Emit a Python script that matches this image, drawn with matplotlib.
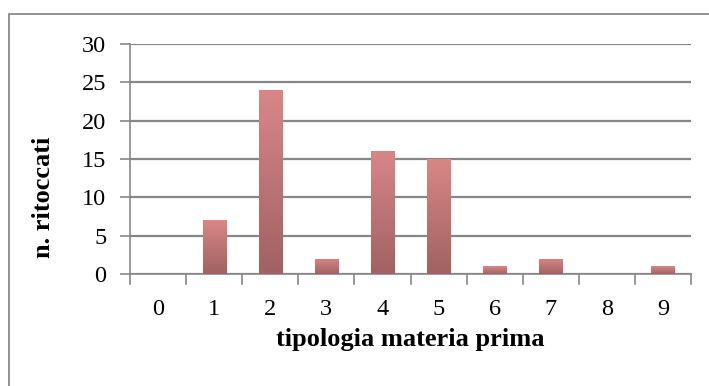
import matplotlib
matplotlib.use("Agg")
import matplotlib.pyplot as plt
import numpy as np
from matplotlib.colors import LinearSegmentedColormap
from matplotlib.patches import Rectangle

categories = ["0", "1", "2", "3", "4", "5", "6", "7", "8", "9"]
values = [0, 7, 24, 2, 16, 15, 1, 2, 0, 1]
y_ticks = [0, 5, 10, 15, 20, 25, 30]

plt.rcParams['font.family'] = ['Liberation Serif', 'DejaVu Serif']

W, H = 709, 386
fig = plt.figure(figsize=(W / 100, H / 100), dpi=100)
ax = fig.add_axes([130 / W, 1 - 274 / H, (691 - 130) / W, (274 - 44) / H])

# outer border of the chart area (extends past right/bottom edges)
fig.patches.append(Rectangle((9 / W, -0.05), 1.1, 1 - 14 / H + 0.05, transform=fig.transFigure,
                             fill=False, edgecolor='#7f7f7f', linewidth=1.2))

n = len(categories)
x = np.arange(n) + 0.5
bw = 0.41
cmap = LinearSegmentedColormap.from_list('g', ['#a06262', '#d98686'])
grad = np.linspace(0, 1, 256).reshape(-1, 1)

ax.set_xlim(0, n)
ax.set_ylim(0, 30)

for xi, v in zip(x, values):
    if v <= 0:
        continue
    # soft shadow
    for k, a in enumerate([0.10, 0.06, 0.03]):
        sh = Rectangle((xi - bw / 2 + 0.02 * (k + 1), 0), bw, v - 0.1 * (k + 1),
                       facecolor='#999999', alpha=a, edgecolor='none', zorder=2)
        ax.add_patch(sh)
    bar = ax.bar(xi, v, width=bw, color='none', edgecolor='none', zorder=3)[0]
    im = ax.imshow(grad, extent=(xi - bw / 2, xi + bw / 2, 0, v), origin='lower',
                   cmap=cmap, aspect='auto', zorder=3)
    im.set_clip_path(bar)

ax.set_aspect('auto')
ax.set_xlim(0, n)
ax.set_ylim(0, 30)

ax.set_yticks(y_ticks)
ax.set_yticklabels([str(t) for t in y_ticks], fontsize=17.5)
ax.set_xticks(x)
ax.set_xticklabels(categories, fontsize=17.5)
ax.tick_params(axis='x', length=0, pad=18)
ax.tick_params(axis='y', length=7, width=1.2, color='#878787', pad=10, direction='out')

# category boundary ticks
for b in range(n + 1):
    ax.plot([b, b], [0, -0.045], transform=ax.get_xaxis_transform(), color='#878787',
            lw=1.2, clip_on=False, zorder=4)

ax.grid(axis='y', color='#878787', linewidth=1.6, zorder=1)
ax.set_axisbelow(True)
for s in ['top', 'right']:
    ax.spines[s].set_visible(False)
for s in ['left', 'bottom']:
    ax.spines[s].set_color('#878787')
    ax.spines[s].set_linewidth(1.2)

ax.set_xlabel('tipologia materia prima', fontsize=19, fontweight='bold', labelpad=6)
ax.set_ylabel('n. ritoccati', fontsize=19, fontweight='bold')
ax.yaxis.set_label_coords(-0.133, 0.335)

fig.savefig('out.png', dpi=100)
